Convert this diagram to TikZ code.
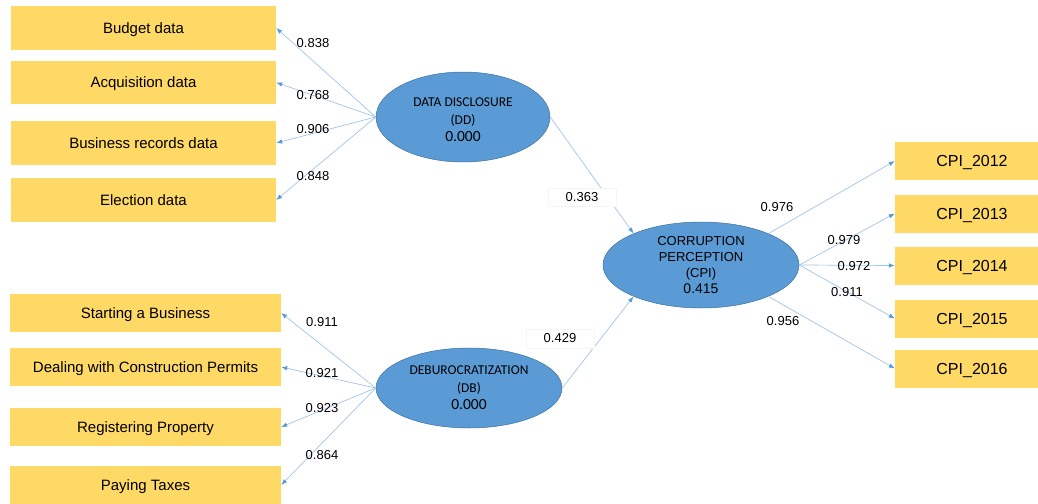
\documentclass[tikz,border=0pt]{standalone}
\usepackage{fontspec}
\setmainfont{Liberation Sans}
\newfontfamily\calfont{Carlito}
\usetikzlibrary{shapes.geometric, arrows.meta}
\definecolor{boxyellow}{RGB}{255,217,102}
\definecolor{latblue}{RGB}{91,155,213}
\definecolor{latedge}{RGB}{65,113,156}
\definecolor{linkblue}{RGB}{160,197,232}
\definecolor{tipblue}{RGB}{91,155,213}

\begin{document}
\begin{tikzpicture}[x=1pt, y=-1pt, every node/.style={inner sep=0pt},
        indicator/.style={fill=boxyellow, minimum height=38pt, text height=10.5pt, text depth=0pt, font=\fontsize{15}{17}\selectfont},
        construct/.style={ellipse, fill=latblue, draw=latedge, line width=0.5pt, align=center},
        load/.style={font=\fontsize{13}{15}\selectfont},
        link/.style={-{Latex[length=6pt, width=4.5pt, color=tipblue]}, linkblue, line width=0.7pt}]
        \useasboundingbox (0,0) rectangle (1038,503);
        \clip (0,0) rectangle (1038,503);

        % indicators of DD
        \node[indicator, minimum width=265pt, minimum height=44pt] (budget) at (143.5,28) {Budget data};
        \node[indicator, minimum width=265pt, minimum height=43pt] (acq) at (143.5,82.5) {Acquisition data};
        \node[indicator, minimum width=265pt, minimum height=44pt] (busrec) at (143.5,143) {Business records data};
        \node[indicator, minimum width=265pt, minimum height=44pt] (elect) at (143.5,200) {Election data};

        % indicators of DB
        \node[indicator, minimum width=271pt] (start) at (145.5,313) {Starting a Business};
        \node[indicator, minimum width=271pt] (permit) at (145.5,367) {Dealing with Construction Permits};
        \node[indicator, minimum width=271pt] (regprop) at (145.5,427) {Registering Property};
        \node[indicator, minimum width=271pt] (taxes) at (145.5,485) {Paying Taxes};

        % indicators of CPI
        \node[indicator, minimum width=154pt, text height=11pt, font=\fontsize{16}{18}\selectfont] (c12) at (972,161) {CPI\_2012};
        \node[indicator, minimum width=154pt, text height=11pt, font=\fontsize{16}{18}\selectfont] (c13) at (972,213.5) {CPI\_2013};
        \node[indicator, minimum width=154pt, text height=11pt, font=\fontsize{16}{18}\selectfont] (c14) at (972,265.5) {CPI\_2014};
        \node[indicator, minimum width=154pt, text height=11pt, font=\fontsize{16}{18}\selectfont] (c15) at (972,318.5) {CPI\_2015};
        \node[indicator, minimum width=154pt, text height=11pt, font=\fontsize{16}{18}\selectfont] (c16) at (972,368.5) {CPI\_2016};

        % constructs
        \node[construct, minimum width=174pt, minimum height=90pt, font=\calfont\fontsize{13.5}{17.5}\selectfont] (dd) at (463,117)
            {\rule{0pt}{14.5pt}DATA DISCLOSURE\\(DD)\\{\fontsize{15.5}{17}\selectfont 0.000}};
        \node[construct, minimum width=186pt, minimum height=80pt, font=\calfont\fontsize{13.5}{17.5}\selectfont] (db) at (469,388)
            {DEBUROCRATIZATION\\(DB)\\{\fontsize{15.5}{17}\selectfont 0.000}};
        \node[construct, minimum width=196pt, minimum height=86pt, font=\fontsize{13}{16}\selectfont] (cpi) at (701,265)
            {CORRUPTION\\PERCEPTION\\(CPI)\\{\fontsize{14}{16}\selectfont 0.415}};

        \path[link]
        (dd.west) edge (budget.east)
        edge (acq.east)
        edge (busrec.east)
        edge (elect.east)
        (db.west) edge (start.east)
        edge (permit.east)
        edge (regprop.east)
        edge (taxes.east)
        (dd.east) edge (cpi.155)
        (db.east) edge (cpi.205)
        (cpi.25) edge (c12.west)
        (cpi.east) edge (c13.west)
        edge (c14.west)
        edge (c15.west)
        (cpi.335) edge (c16.west);

        % loadings
        \node[load] (l838) at (313,43) {0.838};
        \node[load] (l768) at (313,95) {0.768};
        \node[load] (l906) at (313,129) {0.906};
        \node[load] (l848) at (313,176) {0.848};
        \node[load] (l911a) at (322,322) {0.911};
        \node[load] (l921) at (322,373) {0.921};
        \node[load] (l923) at (322,408) {0.923};
        \node[load] (l864) at (322,455) {0.864};
        \node[load] (l976) at (777,207) {0.976};
        \node[load] (l979) at (844,240) {0.979};
        \node[load] (l972) at (854,266) {0.972};
        \node[load] (l911b) at (847,292) {0.911};
        \node[load] (l956) at (783,321) {0.956};

        % path coefficients
        \node[load, fill=white, draw=black!4, minimum width=68pt, minimum height=18pt] (p363) at (582,197) {0.363};
        \node[load, fill=white, draw=black!4, minimum width=68pt, minimum height=19pt] (p429) at (560,338.5) {0.429};
    \end{tikzpicture}
\end{document}
